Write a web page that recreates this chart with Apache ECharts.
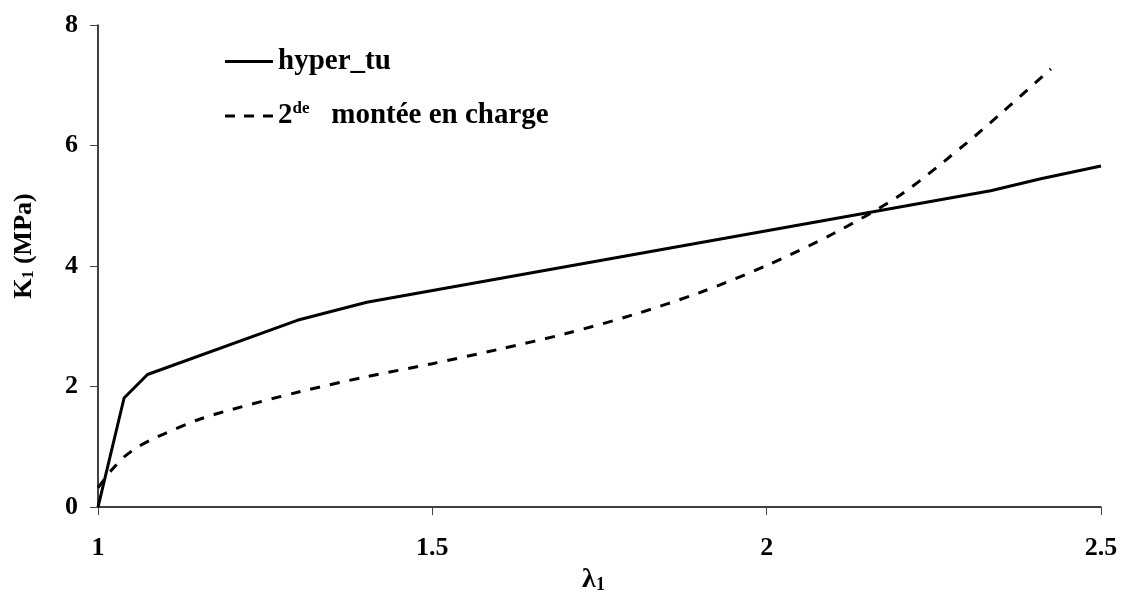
<!DOCTYPE html>
<html>
<head>
<meta charset="utf-8">
<script src="https://cdn.jsdelivr.net/npm/echarts@6/dist/echarts.min.js"></script>
<style>html,body{margin:0;padding:0;background:#fff}#c{width:1122px;height:599px}</style>
</head>
<body>
<div id="c"></div>
<script>
// hyper_tu (solid)
const hyperX = [1.0, 1.039, 1.074, 1.298, 1.402, 2.335, 2.41, 2.5];
const hyperY = [0.0, 1.81, 2.20, 3.10, 3.40, 5.25, 5.45, 5.66];
// 2de montée en charge (dashed)
const chargeX = [1.0, 1.02, 1.04, 1.06, 1.08, 1.1, 1.15, 1.2, 1.3, 1.4, 1.5, 1.6, 1.7, 1.8, 1.9, 2.0, 2.1, 2.2, 2.3, 2.35, 2.425];
const chargeY = [0.32, 0.61, 0.84, 1.00, 1.12, 1.22, 1.45, 1.62, 1.91, 2.16, 2.38, 2.62, 2.88, 3.19, 3.56, 4.01, 4.54, 5.18, 6.05, 6.53, 7.27];
const xTicks = [1, 1.5, 2, 2.5];
const yTicks = [0, 2, 4, 6, 8];
const seriesNames = ['hyper_tu', '2de montée en charge'];

const FONT = '"Liberation Serif", "DejaVu Serif", serif';
const chart = echarts.init(document.getElementById('c'), null, {renderer: 'canvas'});
const zip = (xs, ys) => xs.map((x, i) => [x, ys[i]]);

chart.setOption({
  animation: false,
  backgroundColor: '#fff',
  grid: {left: 98, right: 21, top: 25, bottom: 81, containLabel: false},
  legend: {
    orient: 'vertical', left: 220, top: 42,
    itemWidth: 48, itemHeight: 14, itemGap: 24, itemTextGap: 7,
    data: [
      {name: seriesNames[0], icon: 'path://M0,0 L48,0 L48,3 L0,3 Z'},
      {name: seriesNames[1], icon: 'path://M0,0 L10,0 L10,3 L0,3 Z M19,0 L29,0 L29,3 L19,3 Z M38,0 L48,0 L48,3 L38,3 Z'}
    ],
    itemStyle: {color: '#000'},
    formatter: function (n) {
      return n === seriesNames[1] ? '2{sup|de}   montée en charge' : n;
    },
    textStyle: {
      fontFamily: FONT, fontSize: 29, fontWeight: 'bold', color: '#000',
      rich: {sup: {fontFamily: FONT, fontSize: 17, fontWeight: 'bold', color: '#000', verticalAlign: 'top', padding: [0, 0, 15, 0]}}
    }
  },
  xAxis: {
    type: 'value', min: 1, max: 2.5, interval: 0.5,
    name: 'λ{sub|1}', nameLocation: 'middle', nameGap: 54,
    nameTextStyle: {fontFamily: FONT, fontSize: 28, fontWeight: 'bold', color: '#000', padding: [0, 12, 0, 0],
      rich: {sub: {fontFamily: FONT, fontSize: 18, fontWeight: 'bold', color: '#000', padding: [10, 0, 0, 0]}}},
    axisLine: {lineStyle: {color: '#000', width: 1.5}},
    axisTick: {show: true, inside: false, length: 8, lineStyle: {color: '#444', width: 1}},
    axisLabel: {margin: 28, fontFamily: FONT, fontSize: 26, fontWeight: 'bold', color: '#000',
      formatter: v => xTicks.includes(v) ? String(v) : ''},
    splitLine: {show: false}
  },
  yAxis: {
    type: 'value', min: 0, max: 8, interval: 2,
    name: 'K{sub|1} (MPa)', nameLocation: 'middle', nameGap: 61, nameRotate: 90,
    nameTextStyle: {fontFamily: FONT, fontSize: 26, fontWeight: 'bold', color: '#000', padding: [0, 0, 0, 40],
      rich: {sub: {fontFamily: FONT, fontSize: 16, fontWeight: 'bold', color: '#000', padding: [9, 0, 0, 0]}}},
    axisLine: {show: true, lineStyle: {color: '#000', width: 1.5}},
    axisTick: {show: true, inside: false, length: 8, lineStyle: {color: '#444', width: 1}},
    axisLabel: {margin: 20, fontFamily: FONT, fontSize: 26, fontWeight: 'bold', color: '#000',
      formatter: v => yTicks.includes(v) ? String(v) : ''},
    splitLine: {show: false}
  },
  series: [
    {name: seriesNames[0], type: 'line', data: zip(hyperX, hyperY), showSymbol: false, symbol: 'none',
      lineStyle: {color: '#000', width: 3, type: 'solid'}, itemStyle: {color: '#000'}},
    {name: seriesNames[1], type: 'line', data: zip(chargeX, chargeY), showSymbol: false, symbol: 'none', smooth: 0.3,
      lineStyle: {color: '#000', width: 3, type: [10, 10]}, itemStyle: {color: '#000'}}
  ]
});
</script>
</body>
</html>
